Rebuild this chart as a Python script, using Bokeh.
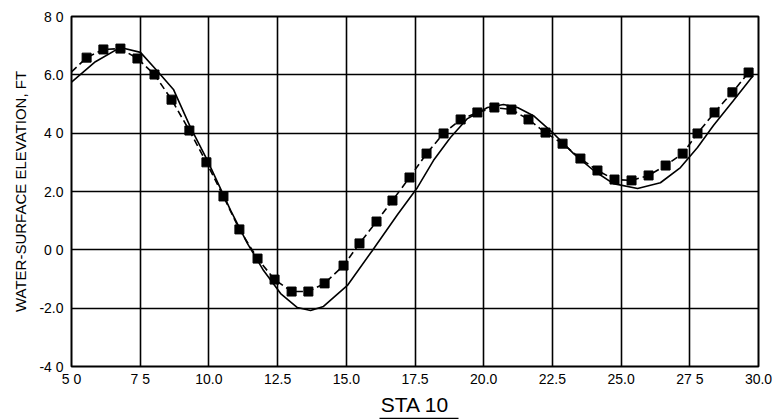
from bokeh.plotting import figure
from bokeh.models import FixedTicker, LinearAxis
from bokeh.embed import file_html
from bokeh.resources import INLINE

# observed water-surface elevations (points, joined by dashed curve)
obs_x = [5.55, 6.16, 6.78, 7.40, 8.02, 8.64, 9.29, 9.91, 10.53, 11.11, 11.77, 12.39,
         13.01, 13.62, 14.21, 14.90, 15.48, 16.10, 16.68, 17.30, 17.92, 18.54, 19.16,
         19.77, 20.39, 21.01, 21.63, 22.25, 22.87, 23.52, 24.14, 24.76, 25.38, 26.00,
         26.62, 27.24, 27.78, 28.40, 29.05, 29.64]
obs_y = [6.59, 6.87, 6.90, 6.56, 6.01, 5.15, 4.09, 3.00, 1.83, 0.70, -0.30, -1.02,
         -1.43, -1.43, -1.15, -0.54, 0.22, 0.97, 1.69, 2.48, 3.30, 3.99, 4.47,
         4.71, 4.88, 4.81, 4.47, 4.02, 3.64, 3.13, 2.72, 2.41, 2.38, 2.55,
         2.89, 3.30, 3.99, 4.71, 5.40, 6.08]

# dashed curve start value at left edge
dash_start_x = [5.0]
dash_start_y = [6.1]

# computed water-surface elevation (solid curve)
calc_x = [5.0, 5.87, 6.78, 7.51, 8.13, 8.71, 9.33, 9.95, 10.79, 11.40, 11.99, 12.61,
          13.22, 13.70, 14.17, 15.04, 15.95, 16.86, 17.59, 18.17, 18.79, 19.41,
          20.14, 20.72, 21.23, 21.81, 22.54, 23.27, 24.00, 24.72, 25.60, 26.43,
          27.16, 27.78, 28.36, 29.09, 29.78]
calc_y = [5.75, 6.45, 6.94, 6.77, 6.12, 5.50, 4.20, 3.06, 1.35, 0.22, -0.71, -1.50,
          -1.98, -2.08, -1.94, -1.22, -0.02, 1.20, 2.14, 3.06, 3.85, 4.50,
          4.88, 4.98, 4.88, 4.60, 3.99, 3.30, 2.72, 2.27, 2.10, 2.30,
          2.82, 3.51, 4.26, 5.12, 5.94]

x_ticks = [5.0, 7.5, 10.0, 12.5, 15.0, 17.5, 20.0, 22.5, 25.0, 27.5, 30.0]
x_tick_labels = ["5 0", "7 5", "10.0", "12.5", "15.0", "17.5", "20.0", "22.5", "25.0", "27 5", "30.0"]
y_ticks = [8, 6, 4, 2, 0, -2, -4]
y_tick_labels = ["8 0", "6.0", "4 0", "2.0", "0 0", "-2.0", "-4 0"]

FONT = "Liberation Sans"

p = figure(width=781, height=419, x_range=(5, 30), y_range=(-4, 8),
           output_backend="svg", toolbar_location=None,
           min_border_left=71, min_border_right=23, min_border_top=16, min_border_bottom=53)

p.background_fill_color = "white"
p.border_fill_color = "white"
p.outline_line_color = "black"
p.outline_line_width = 2

for ax in (p.xaxis[0], p.yaxis[0]):
    ax.axis_line_color = None
    ax.major_tick_line_color = None
    ax.minor_tick_line_color = None
    ax.major_tick_out = 0
    ax.major_tick_in = 0
    ax.minor_tick_out = 0
    ax.minor_tick_in = 0
    ax.major_label_text_font = FONT
    ax.major_label_text_font_size = "14px"
    ax.major_label_text_color = "black"
    ax.axis_label_text_font = FONT
    ax.axis_label_text_font_style = "normal"
    ax.axis_label_text_color = "black"

p.xaxis.ticker = FixedTicker(ticks=x_ticks)
p.xaxis.major_label_overrides = {t: l for t, l in zip(x_ticks, x_tick_labels)}
p.yaxis.ticker = FixedTicker(ticks=y_ticks)
p.yaxis.major_label_overrides = {t: l for t, l in zip(y_ticks, y_tick_labels)}
p.xaxis.major_label_standoff = 4
p.yaxis.major_label_standoff = 8
p.xaxis.axis_label = "STA 10"
p.xaxis.axis_label_text_font_size = "21px"
p.xaxis.axis_label_standoff = 3
p.yaxis.axis_label = "WATER-SURFACE ELEVATION, FT"
p.yaxis.axis_label_text_font_size = "15px"
p.yaxis.axis_label_standoff = 7

# underline below the "STA 10" title: a short bounded axis line
under = LinearAxis(ticker=FixedTicker(ticks=[]), bounds=(16.2, 19.1),
                   axis_line_color="black", axis_line_width=1.6,
                   major_tick_out=0, major_tick_in=0, minor_tick_out=0, minor_tick_in=0,
                   major_label_text_font_size="0px", major_label_standoff=0)
p.add_layout(under, "below")

p.xgrid.ticker = FixedTicker(ticks=x_ticks[1:-1])
p.ygrid.ticker = FixedTicker(ticks=y_ticks[1:-1])
for g in (p.xgrid[0], p.ygrid[0]):
    g.grid_line_color = "black"
    g.grid_line_width = 1.6
    g.grid_line_alpha = 1.0

p.line(calc_x, calc_y, line_color="black", line_width=1.6)
p.line(dash_start_x + obs_x, dash_start_y + obs_y, line_color="black",
       line_width=1.6, line_dash="7 4")
p.scatter(obs_x, obs_y, marker="square", size=9, fill_color="black", line_color="black")

open("out.html", "w").write(file_html(p, INLINE))
